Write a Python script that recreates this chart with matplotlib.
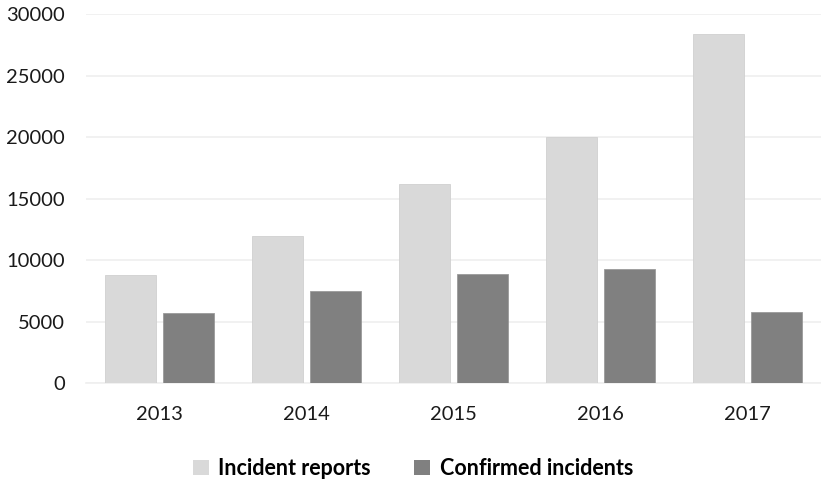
import matplotlib
matplotlib.use("Agg")
import matplotlib.pyplot as plt
from matplotlib.patches import Patch
import numpy as np

plt.rcParams['font.family'] = ['Lato', 'DejaVu Sans']

years = ["2013", "2014", "2015", "2016", "2017"]
incident_reports = [8800, 12000, 16200, 20000, 28400]
confirmed_incidents = [5700, 7500, 8900, 9300, 5800]

light = "#d9d9d9"
dark = "#808080"
text_color = "#1a1a1a"

fig = plt.figure(figsize=(8.21, 4.86), dpi=100)
ax = fig.add_axes([0.1047, 0.211, 0.8953, 0.760])

x = np.arange(len(years))
w = 0.35
off = 0.197
ax.bar(x - off, incident_reports, width=w, color=light, edgecolor="#d0d0d0", linewidth=0.6, zorder=3)
ax.bar(x + off, confirmed_incidents, width=w, color=dark, edgecolor="#9a9a9a", linewidth=0.6, zorder=3)

ax.set_xlim(-0.5, len(years) - 0.5)
ax.set_ylim(0, 30000)
ax.set_yticks(np.arange(0, 30001, 5000))
ax.set_xticks(x)
ax.set_xticklabels(years)
ax.yaxis.grid(True, color="#efefef", linewidth=1.2, zorder=0)
ax.set_axisbelow(True)
for s in ["top", "right", "left"]:
    ax.spines[s].set_visible(False)
ax.spines["bottom"].set_color("#efefef")
ax.spines["bottom"].set_linewidth(1.2)
ax.tick_params(axis="both", length=0, labelsize=14.5, colors=text_color)
ax.tick_params(axis="y", pad=15)
ax.tick_params(axis="x", pad=16)

handles = [Patch(facecolor=light, edgecolor="none", label="Incident reports"),
           Patch(facecolor=dark, edgecolor="none", label="Confirmed incidents")]
fig.legend(handles=handles, loc="center", bbox_to_anchor=(0.503, 0.036), ncol=2,
           frameon=False, handlelength=0.75, handleheight=0.75, handletextpad=0.45,
           columnspacing=2.0, prop={"weight": "bold", "size": 15.5}, labelcolor="#000000")

fig.savefig("out.png", dpi=100)
